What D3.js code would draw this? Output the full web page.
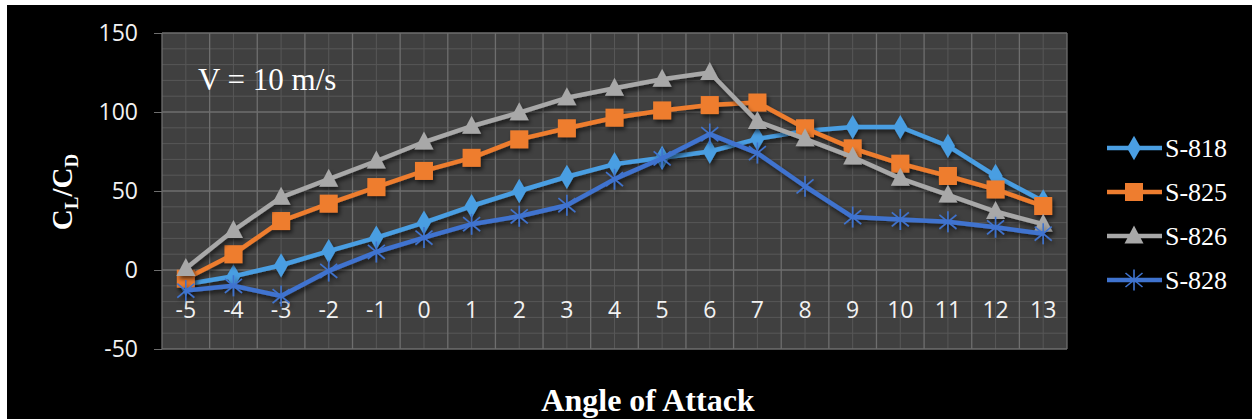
<!DOCTYPE html>
<html><head><meta charset="utf-8">
<script src="https://cdn.jsdelivr.net/npm/d3@7"></script>
<style>html,body{margin:0;padding:0;background:#fff;}svg{display:block;}</style>
</head><body>
<script>
const categories = [-5,-4,-3,-2,-1,0,1,2,3,4,5,6,7,8,9,10,11,12,13];
const s818 = [-9,-4,3,12,20.5,30,40.5,50,59,67,71,75,83,88,90.5,90.5,78.5,59.5,43.5];
const s825 = [-5.5,10,31,42,52.5,62.7,71,82.7,89.7,96.4,101,104.4,106,89.7,77,67.3,59.5,51,40.5];
const s826 = [1,25,46,57.5,69,81,91,99.6,109,115,120.7,125,94,83,71.5,58,47.5,37,29];
const s828 = [-13,-10,-16.5,-0.6,11.4,20.5,29,34,41,57.5,70.7,86,74,53,33.5,32,30.5,27,23];
const seriesNames = ["S-818","S-825","S-826","S-828"];
const yTicks = [-50,0,50,100,150];

const W=1252,H=419;
const svg=d3.select("body").append("svg").attr("width",W).attr("height",H);
const defs=svg.append("defs");
const f=defs.append("filter").attr("id","sh").attr("x","-20%").attr("y","-20%").attr("width","140%").attr("height","140%");
f.append("feDropShadow").attr("dx",2).attr("dy",3).attr("stdDeviation",2).attr("flood-color","#000").attr("flood-opacity",0.6);

svg.append("rect").attr("width",W).attr("height",H).attr("fill","#fff");
svg.append("rect").attr("x",7).attr("y",5).attr("width",W-7).attr("height",H-5).attr("fill","#000");

const L=162,R=1067,T=33,B=349;
const x=d3.scaleBand().domain(categories).range([L,R]).padding(0);
const cx=c=>x(c)+x.bandwidth()/2;
const y=d3.scaleLinear().domain([-50,150]).range([B,T]);

svg.append("rect").attr("x",L).attr("y",T).attr("width",R-L).attr("height",B-T).attr("fill","#404040");

const g=svg.append("g");
g.selectAll(".mh").data(d3.range(-50,151,10).filter(v=>v%50!==0)).enter().append("line")
 .attr("x1",L).attr("x2",R).attr("y1",d=>y(d)).attr("y2",d=>y(d)).attr("stroke","#575757").attr("stroke-width",1);
g.selectAll(".mv").data(categories).enter().append("line")
 .attr("x1",d=>cx(d)).attr("x2",d=>cx(d)).attr("y1",T).attr("y2",B).attr("stroke","#575757").attr("stroke-width",1);
const bounds=categories.map(c=>x(c)).concat([R]);
g.selectAll(".Mv").data(bounds).enter().append("line")
 .attr("x1",d=>d).attr("x2",d=>d).attr("y1",T).attr("y2",B).attr("stroke","#6e6e6e").attr("stroke-width",1.3);
g.selectAll(".Mh").data(yTicks).enter().append("line")
 .attr("x1",L).attr("x2",R).attr("y1",d=>y(d)).attr("y2",d=>y(d)).attr("stroke","#6e6e6e").attr("stroke-width",1.3);

const yAxis=d3.axisLeft(y).tickValues(yTicks).tickSize(8).tickPadding(16).tickFormat(d=>String(d));
const ya=svg.append("g").attr("transform",`translate(${L},0)`).call(yAxis);
ya.select(".domain").remove();
ya.selectAll("line").attr("stroke","#6e6e6e");
ya.selectAll("text").attr("fill","#f2f2f2").style("font-family","'Open Sans'").style("font-size","23px");

svg.append("g").selectAll("text").data(categories).enter().append("text")
 .attr("x",d=>cx(d)).attr("y",318).attr("text-anchor","middle")
 .attr("fill","#f2f2f2").style("font-family","'Open Sans'").style("font-size","23px").text(d=>String(d));

const colors=["#4a9ee2","#ee7d2f","#a8a8a8","#3f73cf"];
const data=[s818,s825,s826,s828];
const line=d3.line().x((d,i)=>cx(categories[i])).y(d=>y(d));

function marker(sel,k,color){
  if(k===0){sel.append("path").attr("d",d3.symbol(d3.symbolDiamond,170)()).attr("fill",color);}
  else if(k===1){sel.append("rect").attr("x",-9).attr("y",-9).attr("width",18).attr("height",18).attr("fill",color);}
  else if(k===2){sel.append("path").attr("d","M0,-10.5 L9.5,7.5 L-9.5,7.5 Z").attr("fill",color);}
  else {sel.append("path").attr("d","M-8.5,-7L8.5,7M-8.5,7L8.5,-7M0,-10.5L0,10.5").attr("stroke",color).attr("stroke-width",1.6).attr("fill","none");}
}

data.forEach((vals,k)=>{
  const sg=svg.append("g").attr("filter","url(#sh)");
  sg.append("path").datum(vals).attr("d",line).attr("fill","none").attr("stroke",colors[k]).attr("stroke-width",4.5).attr("stroke-linejoin","round");
  vals.forEach((v,i)=>{
    const m=sg.append("g").attr("transform",`translate(${cx(categories[i])},${y(v)})`);
    marker(m,k,colors[k]);
  });
});

svg.append("text").attr("x",198).attr("y",90).attr("fill","#fff").style("font-family","'Liberation Serif'").style("font-size","31px").text("V = 10 m/s");

const legY=[148,192,236,280];
seriesNames.forEach((n,k)=>{
  const lg=svg.append("g").attr("transform",`translate(0,${legY[k]})`);
  lg.append("line").attr("x1",1107).attr("x2",1162).attr("y1",0).attr("y2",0).attr("stroke",colors[k]).attr("stroke-width",4.5);
  const m=lg.append("g").attr("transform","translate(1134,0)");
  marker(m,k,colors[k]);
  lg.append("text").attr("x",1165).attr("y",9).attr("fill","#fff").style("font-family","'Liberation Serif'").style("font-size","26px").text(n);
});

svg.append("text").attr("x",648).attr("y",411).attr("text-anchor","middle").attr("fill","#fff")
 .style("font-family","'Liberation Serif'").style("font-weight","bold").style("font-size","32px").text("Angle of Attack");
const yt=svg.append("text").attr("transform","translate(72,192) rotate(-90)").attr("text-anchor","middle").attr("fill","#fff")
 .style("font-family","'Liberation Serif'").style("font-weight","bold").style("font-size","29px");
yt.append("tspan").text("C");
yt.append("tspan").attr("dy",6).style("font-size","19px").text("L");
yt.append("tspan").attr("dy",-6).text("/C");
yt.append("tspan").attr("dy",6).style("font-size","19px").text("D");
</script>
</body></html>
